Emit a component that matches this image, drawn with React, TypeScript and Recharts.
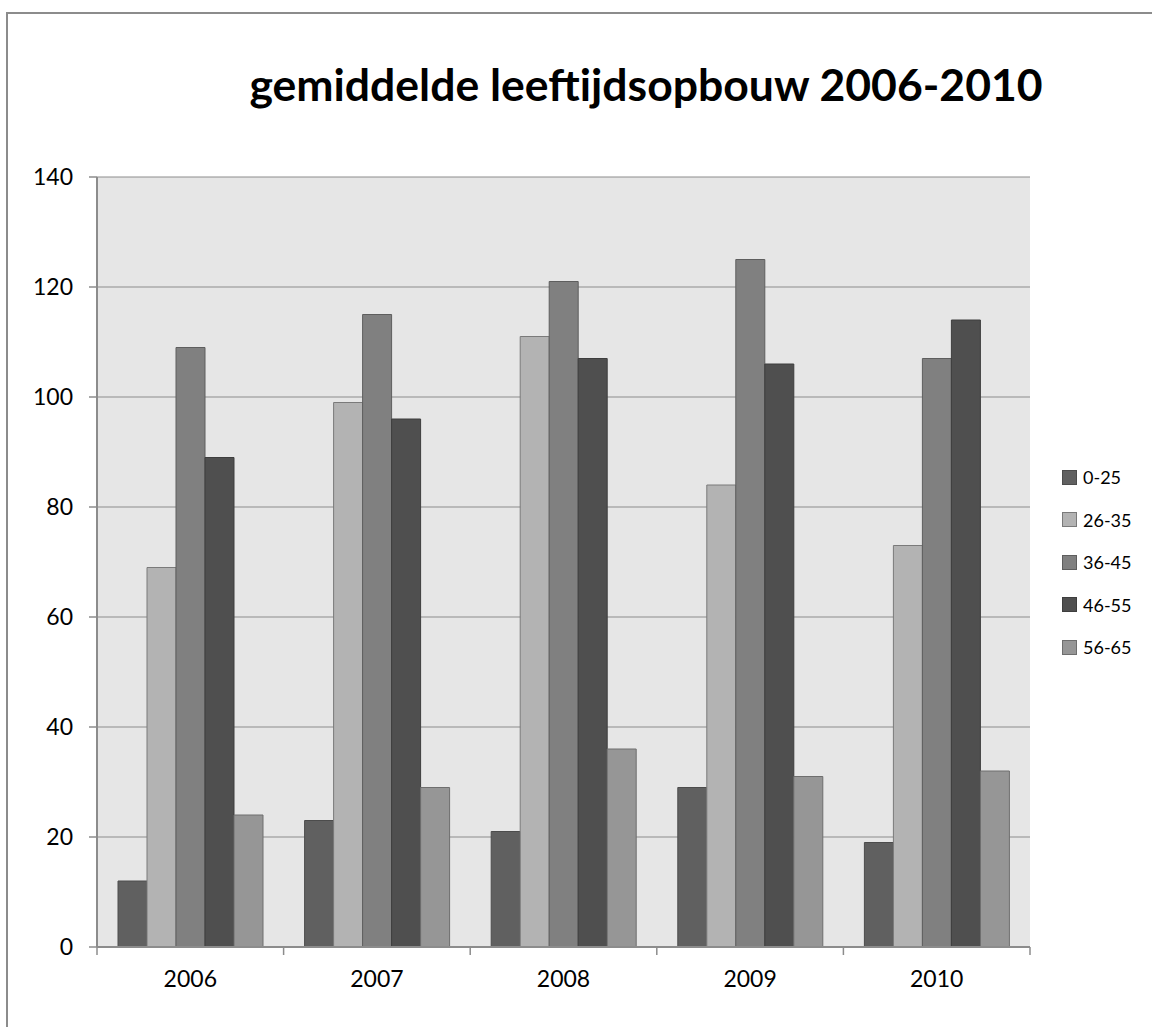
import { BarChart, Bar, XAxis, YAxis, CartesianGrid } from "recharts";

const years = ["2006", "2007", "2008", "2009", "2010"];
const age0to25 = [12, 23, 21, 29, 19];
const age26to35 = [69, 99, 111, 84, 73];
const age36to45 = [109, 115, 121, 125, 107];
const age46to55 = [89, 96, 107, 106, 114];
const age56to65 = [24, 29, 36, 31, 32];
const yTicks = [0, 20, 40, 60, 80, 100, 120, 140];

const series = [
  { key: "g1", name: "0-25", values: age0to25, fill: "#606060", stroke: "#4c4c4c" },
  { key: "g2", name: "26-35", values: age26to35, fill: "#b3b3b3", stroke: "#7a7a7a" },
  { key: "g3", name: "36-45", values: age36to45, fill: "#808080", stroke: "#5e5e5e" },
  { key: "g4", name: "46-55", values: age46to55, fill: "#4f4f4f", stroke: "#3e3e3e" },
  { key: "g5", name: "56-65", values: age56to65, fill: "#969696", stroke: "#6e6e6e" },
];

const data = years.map((year, i) => {
  const row: Record<string, string | number> = { year };
  series.forEach((s) => (row[s.key] = s.values[i]));
  return row;
});

const FONT = "Lato, 'Open Sans', sans-serif";
const PLOT_LEFT = 97;
const PLOT_RIGHT = 1030;
const BAND = (PLOT_RIGHT - PLOT_LEFT) / years.length;

// category labels plus the boundary tick marks Excel draws between groups
function YearTick(props: { x?: number; y?: number; index?: number; payload?: { value: string } }) {
  const { x = 0, y = 0, index = 0, payload } = props;
  const axisY = y - 8;
  return (
    <g>
      <line x1={x - BAND / 2} y1={axisY} x2={x - BAND / 2} y2={axisY + 8} stroke="#8c8c8c" strokeWidth={1.5} />
      {index === years.length - 1 && (
        <line x1={x + BAND / 2} y1={axisY} x2={x + BAND / 2} y2={axisY + 8} stroke="#8c8c8c" strokeWidth={1.5} />
      )}
      <text x={x} y={axisY + 40} textAnchor="middle" fontSize={23} fill="#000" fontFamily={FONT}>
        {payload?.value}
      </text>
    </g>
  );
}

function SideLegend() {
  return (
    <div style={{ position: "absolute", left: 1062, top: 456, fontFamily: FONT, fontSize: 18, color: "#000" }}>
      {series.map((s) => (
        <div key={s.key} style={{ display: "flex", alignItems: "center", height: 42.5 }}>
          <span
            style={{
              display: "inline-block",
              width: 13,
              height: 13,
              background: s.fill,
              border: `1px solid ${s.stroke}`,
              marginRight: 6,
            }}
          />
          <span>{s.name}</span>
        </div>
      ))}
    </div>
  );
}

export default function App() {
  return (
    <div
      style={{
        position: "absolute",
        left: 0,
        top: 0,
        width: 1152,
        height: 1027,
        overflow: "hidden",
        background: "#fff",
        fontFamily: FONT,
      }}
    >
      <div
        style={{
          position: "absolute",
          left: 6,
          top: 12,
          width: 1170,
          height: 1040,
          border: "2px solid #8c8c8c",
        }}
      />
      <div
        style={{
          position: "absolute",
          left: 0,
          top: 54,
          width: 1292,
          textAlign: "center",
          fontSize: 44.5,
          fontWeight: 700,
          color: "#000",
          lineHeight: "60px",
        }}
      >
        gemiddelde leeftijdsopbouw 2006-2010
      </div>
      <div style={{ position: "absolute", left: 0, top: 0 }}>
        <BarChart
          width={1152}
          height={1027}
          data={data}
          margin={{ top: 177, right: 122, bottom: 20, left: 37 }}
          barCategoryGap={21}
          barGap={0}
        >
          <CartesianGrid vertical={false} fill="#e6e6e6" stroke="#8c8c8c" strokeWidth={1} />
          <XAxis
            dataKey="year"
            height={60}
            tickLine={false}
            axisLine={{ stroke: "#8c8c8c", strokeWidth: 2 }}
            tick={<YearTick />}
            interval={0}
          />
          <YAxis
            width={60}
            domain={[0, 140]}
            ticks={yTicks}
            interval={0}
            tickSize={8}
            tickMargin={16}
            axisLine={{ stroke: "#8c8c8c", strokeWidth: 2 }}
            tickLine={{ stroke: "#8c8c8c", strokeWidth: 1.5 }}
            tick={{ fontSize: 23, fill: "#000", fontFamily: FONT }}
          />
          {series.map((s) => (
            <Bar
              key={s.key}
              dataKey={s.key}
              name={s.name}
              fill={s.fill}
              stroke={s.stroke}
              strokeWidth={1}
              isAnimationActive={false}
            />
          ))}
        </BarChart>
      </div>
      <SideLegend />
    </div>
  );
}
